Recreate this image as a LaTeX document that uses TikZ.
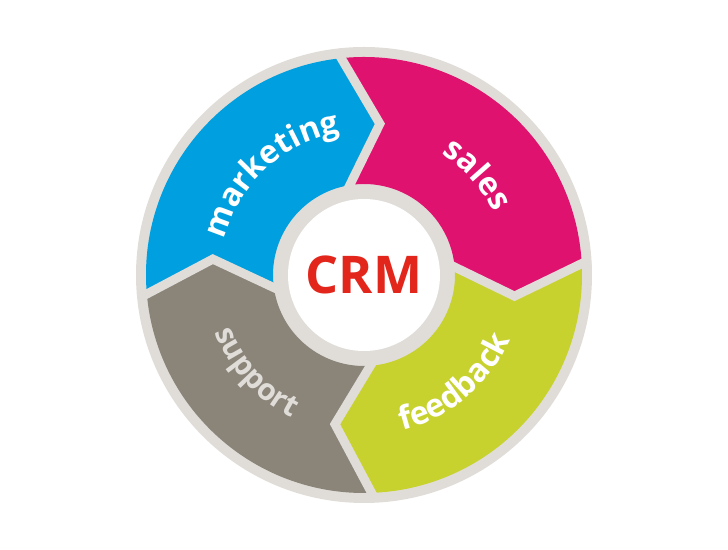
\documentclass[tikz,border=0pt]{standalone}
\usepackage{fontspec}
\setmainfont{Open Sans}
\usetikzlibrary{calc, decorations.text}

\definecolor{ringgrey}{RGB}{224,221,217}
\definecolor{mktblue}{RGB}{0,159,223}
\definecolor{salespink}{RGB}{224,18,111}
\definecolor{fbgreen}{RGB}{200,210,46}
\definecolor{suptaupe}{RGB}{138,132,121}
\definecolor{crmred}{RGB}{227,38,28}

\begin{document}
\begin{tikzpicture}[x=0.5pt, y=0.5pt,
  gap/.style={draw=ringgrey, line width=4.5pt, line join=miter},
  arctext/.style={decorate, decoration={text along path, text align=center, text color=#1}}]
\useasboundingbox (-364,-275) rectangle (364,275);

\fill[ringgrey] (0,0) circle[radius=228];

% separators: outer end, tip, inner end
\coordinate (topout) at (96:218);
\coordinate (toptip) at (84:152);
\coordinate (topin) at (99:91);
\coordinate (rightout) at (3:218);
\coordinate (righttip) at (-8:152);
\coordinate (rightin) at (5:91);
\coordinate (botout) at (-88:218);
\coordinate (bottip) at (-101:152);
\coordinate (botin) at (-86:91);
\coordinate (leftout) at (185:218);
\coordinate (lefttip) at (174:152);
\coordinate (leftin) at (188:91);

% segments
\fill[mktblue] (leftout) arc[start angle=185, end angle=96, radius=218] -- (toptip) -- (topin)
  arc[start angle=99, end angle=188, radius=91] -- (lefttip) -- cycle;
\fill[salespink] (topout) arc[start angle=96, end angle=3, radius=218] -- (righttip) -- (rightin)
  arc[start angle=5, end angle=99, radius=91] -- (toptip) -- cycle;
\fill[fbgreen] (rightout) arc[start angle=3, end angle=-88, radius=218] -- (bottip) -- (botin)
  arc[start angle=-86, end angle=5, radius=91] -- (righttip) -- cycle;
\fill[suptaupe] (botout) arc[start angle=-88, end angle=-175, radius=218] -- (lefttip) -- (leftin)
  arc[start angle=-172, end angle=-86, radius=91] -- (bottip) -- cycle;

\draw[gap] ($(toptip)!1.12!(topout)$) -- (toptip) -- ($(toptip)!1.2!(topin)$);
\draw[gap] ($(righttip)!1.12!(rightout)$) -- (righttip) -- ($(righttip)!1.2!(rightin)$);
\draw[gap] ($(bottip)!1.12!(botout)$) -- (bottip) -- ($(bottip)!1.2!(botin)$);
\draw[gap] ($(lefttip)!1.12!(leftout)$) -- (lefttip) -- ($(lefttip)!1.2!(leftin)$);

\node (crm) [circle, fill=white, minimum size=76pt, inner sep=0pt,
  font=\bfseries\fontsize{26}{31}\selectfont, text=crmred] at (0,0) {CRM};

% labels
\path[arctext=white, decoration={text={|\bfseries\fontsize{16}{19}\selectfont|marketing}}]
  (172:144) arc[start angle=172, end angle=93, radius=144];
\path[arctext=white, decoration={text={|\bfseries\fontsize{16}{19}\selectfont|sales}}]
  (80:144) arc[start angle=80, end angle=3, radius=144];
\path[arctext=white, decoration={text={|\bfseries\fontsize{16}{19}\selectfont|feedback}}]
  (-90:160) arc[start angle=-90, end angle=-10, radius=160];
\path[arctext=ringgrey, decoration={text={|\bfseries\fontsize{15}{18}\selectfont|support}}]
  (182:160) arc[start angle=182, end angle=262, radius=160];
\end{tikzpicture}
\end{document}
